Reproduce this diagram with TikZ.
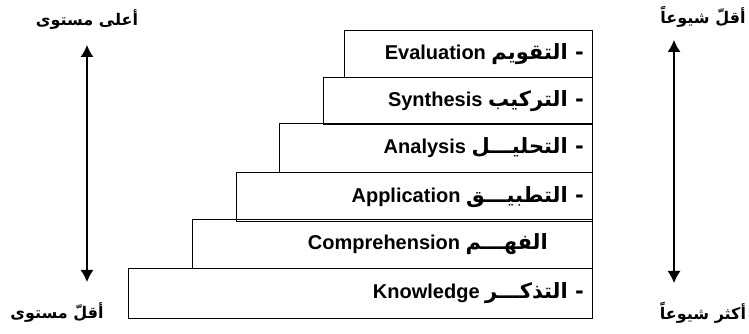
\documentclass[tikz,border=0pt]{standalone}
\usepackage{fontspec}
\usepackage{tikz}
\usetikzlibrary{arrows.meta}
\setsansfont{Liberation Sans}
\newfontfamily\arabicfont[Script=Arabic]{DejaVu Sans}
\newcommand\arword[1]{{\arabicfont\fontsize{21}{24}\selectfont\beginR #1\endR}}
\TeXXeTstate=1

\begin{document}
\begin{tikzpicture}[x=1pt, y=1pt,
    level/.style={rectangle, draw, line width=1.1pt, anchor=north east, inner sep=0pt},
    word/.style={anchor=east, inner sep=0pt, font=\sffamily\bfseries\fontsize{20}{24}\selectfont},
    side/.style={font=\arabicfont\bfseries\fontsize{16}{18}\selectfont},
    updown/.style={{Latex[length=12pt,width=13pt]}-{Latex[length=12pt,width=13pt]}, line width=1.2pt}]
    \useasboundingbox (0,0) rectangle (749,334);

    % the steps, bottom one first
    \node (K) [level, minimum width=464, minimum height=50] at (593,66) {};
    \node (C) [level, minimum width=400, minimum height=49] at (593,115) {};
    \node (P) [level, minimum width=356, minimum height=49] at (593,162) {};
    \node (A) [level, minimum width=313, minimum height=49] at (593,211) {};
    \node (S) [level, minimum width=269, minimum height=47] at (593,257) {};
    \node (E) [level, minimum width=248, minimum height=47] at (593,304) {};

    \node (Kt) [word] at ([xshift=-9pt]K.east) {Knowledge \arword{- التذكـــر}};
    \node (Ct) [word] at ([xshift=-45pt]C.east) {Comprehension \arword{الفهـــم}};
    \node (Pt) [word] at ([xshift=-9pt]P.east) {Application \arword{- التطبيـــق}};
    \node (At) [word] at ([xshift=-9pt]A.east) {Analysis \arword{- التحليـــل}};
    \node (St) [word] at ([xshift=-9pt]S.east) {Synthesis \arword{- التركيب}};
    \node (Et) [word] at ([xshift=-9pt]E.east) {Evaluation \arword{- التقويم}};

    % side labels
    \node (hiL) [side] at (87,314) {\beginR أعلى مستوى\endR};
    \node (loL) [side] at (57,21) {\beginR أقلّ مستوى\endR};
    \node (hiR) [side] at (703,317) {\beginR أقلّ شيوعاً\endR};
    \node (loR) [side] at (703,21) {\beginR أكثر شيوعاً\endR};

    \coordinate (lt) at (87,289);
    \coordinate (lb) at (87,52);
    \coordinate (rt) at (674,294);
    \coordinate (rb) at (674,51);
    \draw[updown] (lb) -- (lt);
    \draw[updown] (rb) -- (rt);
\end{tikzpicture}
\end{document}
